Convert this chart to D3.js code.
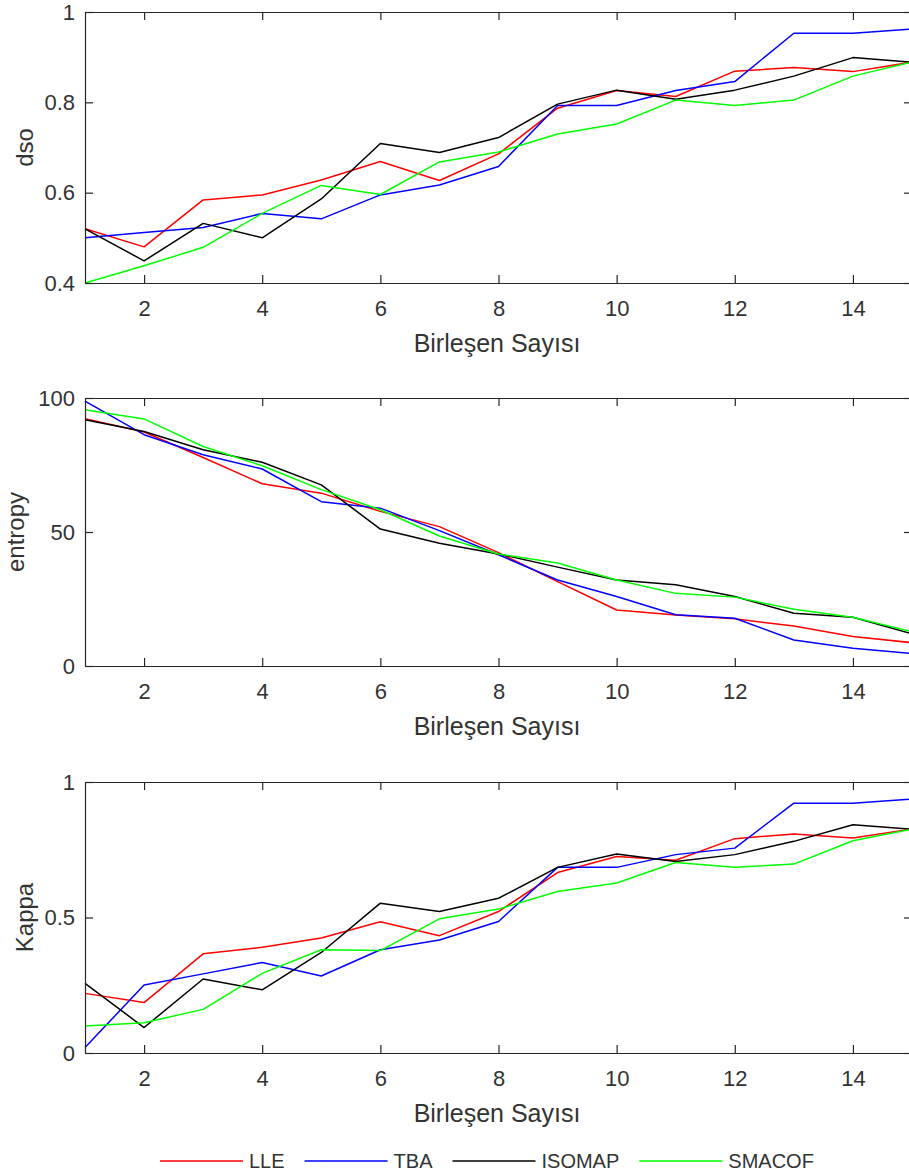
<!DOCTYPE html>
<html><head><meta charset="utf-8">
<script src="https://cdn.jsdelivr.net/npm/d3@7/dist/d3.min.js"></script>
<style>body{margin:0;background:#fff} svg{display:block}</style>
</head><body>
<svg id="c" width="909" height="1175"></svg>
<script>
const xValues = [1,2,3,4,5,6,7,8,9,10,11,12,13,14,15];
const xTicks = [2,4,6,8,10,12,14];
const xLabel = "Birleşen Sayısı";
const seriesNames = ["LLE","TBA","ISOMAP","SMACOF"];
const seriesColors = ["#ff0000","#0000ff","#000000","#00ff00"];

const dsoLLE    = [0.520,0.480,0.584,0.595,0.628,0.669,0.627,0.686,0.787,0.826,0.813,0.869,0.877,0.868,0.889];
const dsoTBA    = [0.500,0.512,0.523,0.554,0.542,0.595,0.617,0.658,0.793,0.793,0.826,0.846,0.953,0.953,0.962];
const dsoISOMAP = [0.520,0.449,0.532,0.500,0.586,0.709,0.689,0.722,0.796,0.827,0.807,0.827,0.858,0.899,0.889];
const dsoSMACOF = [0.400,0.438,0.479,0.554,0.616,0.596,0.668,0.690,0.730,0.752,0.805,0.793,0.805,0.858,0.889];
const dsoTicks = [0.4,0.6,0.8,1];

const entropyLLE    = [92.3,87.3,77.8,68.0,64.5,57.7,52.0,42.3,31.5,20.9,19.0,17.6,14.9,11.0,8.7];
const entropyTBA    = [98.8,86.3,78.8,73.5,61.3,58.9,50.5,41.5,32.1,25.9,19.1,17.8,9.7,6.6,4.7];
const entropyISOMAP = [91.9,87.5,80.7,76.0,67.6,51.1,45.8,41.8,36.9,32.1,30.3,25.9,19.7,18.2,12.0];
const entropySMACOF = [95.6,92.2,81.9,74.7,65.8,58.3,48.5,41.8,38.4,32.1,27.1,25.7,21.2,18.2,12.8];
const entropyTicks = [0,50,100];

const kappaLLE    = [0.220,0.186,0.366,0.390,0.424,0.484,0.433,0.522,0.666,0.725,0.711,0.791,0.808,0.793,0.826];
const kappaTBA    = [0.020,0.251,0.292,0.334,0.284,0.381,0.417,0.485,0.685,0.685,0.732,0.756,0.922,0.922,0.937];
const kappaISOMAP = [0.257,0.094,0.273,0.233,0.371,0.553,0.522,0.571,0.685,0.734,0.707,0.732,0.781,0.842,0.826];
const kappaSMACOF = [0.100,0.112,0.161,0.294,0.381,0.378,0.495,0.531,0.596,0.627,0.703,0.685,0.697,0.783,0.826];
const kappaTicks = [0,0.5,1];

const panels = [
  {label:"dso", series:[dsoLLE,dsoTBA,dsoISOMAP,dsoSMACOF], domain:[0.4,1], ticks:dsoTicks, top:12, bottom:283, labelX:33},
  {label:"entropy", series:[entropyLLE,entropyTBA,entropyISOMAP,entropySMACOF], domain:[0,100], ticks:entropyTicks, top:398, bottom:666, labelX:24},
  {label:"Kappa", series:[kappaLLE,kappaTBA,kappaISOMAP,kappaSMACOF], domain:[0,1], ticks:kappaTicks, top:782, bottom:1053, labelX:33}
];

const FONT = "'Liberation Sans', Arial, Helvetica, sans-serif";
const AX = "#262626";
const TXT = "#333333";
const left = 85, right = 912;
const svg = d3.select("#c");
const x = d3.scaleLinear().domain([1,15]).range([left,right]);

function styleAxis(g){
  g.attr("font-family",FONT).attr("font-size",22);
  g.select(".domain").attr("stroke",AX).attr("stroke-width",1.2);
  g.selectAll(".tick line").attr("stroke",AX).attr("stroke-width",1.2);
  g.selectAll(".tick text").attr("fill",TXT);
}

panels.forEach(p=>{
  const y = d3.scaleLinear().domain(p.domain).range([p.bottom,p.top]);
  const fmt = d => String(d);
  const line = d3.line().x((d,i)=>x(xValues[i])).y(d=>y(d));
  p.series.forEach((s,k)=>{
    svg.append("path").datum(s).attr("d",line).attr("fill","none")
      .attr("stroke",seriesColors[k]).attr("stroke-width",1.5).attr("stroke-linejoin","round");
  });
  svg.append("g").attr("transform",`translate(0,${p.bottom})`)
    .call(d3.axisBottom(x).tickValues(xTicks).tickSizeInner(-8).tickSizeOuter(0).tickPadding(17).tickFormat(fmt))
    .call(styleAxis);
  svg.append("g").attr("transform",`translate(0,${p.top})`)
    .call(d3.axisTop(x).tickValues(xTicks).tickSizeInner(-8).tickSizeOuter(0).tickFormat(""))
    .call(styleAxis);
  svg.append("g").attr("transform",`translate(${left},0)`)
    .call(d3.axisLeft(y).tickValues(p.ticks).tickSizeInner(-8).tickSizeOuter(0).tickPadding(10).tickFormat(fmt))
    .call(styleAxis);
  svg.append("g").attr("transform",`translate(${right},0)`)
    .call(d3.axisRight(y).tickValues(p.ticks).tickSizeInner(-8).tickSizeOuter(0).tickFormat(""))
    .call(styleAxis);
  svg.append("text").attr("x",(left+909)/2).attr("y",p.bottom+69)
    .attr("text-anchor","middle").attr("font-family",FONT).attr("font-size",25).attr("fill",TXT)
    .text(xLabel);
  svg.append("text").attr("transform",`translate(${p.labelX},${(p.top+p.bottom)/2}) rotate(-90)`)
    .attr("text-anchor","middle").attr("font-family",FONT).attr("font-size",24).attr("fill",TXT)
    .text(p.label);
});

// legend
const legendY = 1161, lineLen = 83, gap1 = 6, gap2 = 20;
let cx = 160;
const lg = svg.append("g");
seriesNames.forEach((n,k)=>{
  lg.append("line").attr("x1",cx).attr("x2",cx+lineLen).attr("y1",legendY).attr("y2",legendY)
    .attr("stroke",seriesColors[k]).attr("stroke-width",1.5);
  cx += lineLen + gap1;
  const t = lg.append("text").attr("x",cx).attr("y",legendY).attr("dy","0.35em")
    .attr("font-family",FONT).attr("font-size",20).attr("fill",TXT).text(n);
  cx += t.node().getComputedTextLength() + gap2;
});
</script>
</body></html>
